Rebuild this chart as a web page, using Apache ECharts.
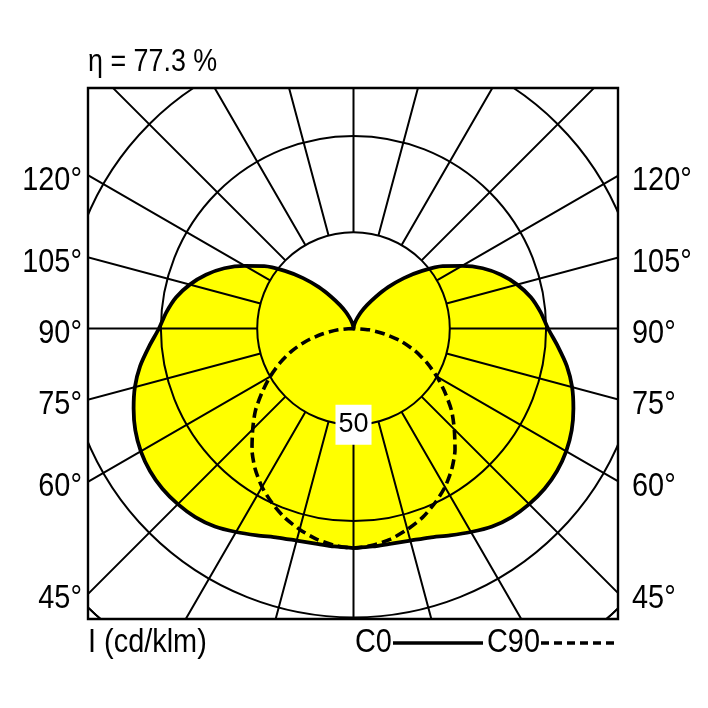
<!DOCTYPE html>
<html><head><meta charset="utf-8">
<script src="https://cdn.jsdelivr.net/npm/echarts@6/dist/echarts.min.js"></script>
<style>html,body{margin:0;padding:0;background:#fff}#c{width:708px;height:708px}</style>
</head><body><div id="c"></div>
<script>
// ---- data (cd/klm), gamma angles in degrees from nadir ----
const gammaC0 = [0,5,10,15,20,25,30,35,40,45,50,55,60,65,70,75,80,85,90,95,100,105,110,115,120,125,130,135,140,145,150,155,160,165,170,175,180];
const c0Values = [114,113.6,113.4,114,115.5,118.5,122,125.5,127.8,129,129.5,129,127.5,125,121.5,117.5,112.5,106.5,101,97.5,93.5,88,81.5,74,65,56.5,46.5,37,28,20,14,9.5,6,3.5,1.8,0.6,0];
const gammaC90 = [0,5,10,15,20,25,30,35,40,45,50,55,60,65,70,75,80,85,90];
const c90Values = [114,113,111,108,104.5,100,95,89,82,74,66.5,58,50,42,34,25.5,16.5,8,0];
const ringTicks = [50,100,150,200];
const ringLabel = 50;
const angleLabels = [45,60,75,90,105,120];
const efficiencyText = 'η = 77.3 %';
const unitText = 'I (cd/klm)';
const legendNames = ['C0','C90'];

// ---- layout ----
const box = {left:88, top:88, right:618, bottom:619};
const center = [353.5, 328.5];
const pxPerUnit = 1.926;
const rMax = ringTicks[ringTicks.length-1];
const R = rMax * pxPerUnit;
const FAM = "'Liberation Sans', Arial, sans-serif";
const FONT = "34px " + FAM;
const SX = 0.85;
const lineW = 2;
const SMOOTH = 0.25;

// full C0/C180 curve (left half then mirrored right half)
const c0Data = [];
gammaC0.forEach((g,i)=>c0Data.push([c0Values[i], g]));
for (let i = gammaC0.length-2; i >= 0; i--) c0Data.push([c0Values[i], 360-gammaC0[i]]);
// C90/C270 curve
const c90Data = [];
for (let i = gammaC90.length-1; i >= 0; i--) c90Data.push([c90Values[i], gammaC90[i]]);
for (let i = 1; i < gammaC90.length; i++) c90Data.push([c90Values[i], 360-gammaC90[i]]);

const chart = echarts.init(document.getElementById('c'), null, {renderer:'canvas'});

function txt(t, x, y, align, font, sx){
  return {type:'text', z:102, x:x, y:y, scaleX:sx||SX, style:{text:t, font:font||FONT, fill:'#000', align:align, verticalAlign:'middle'}};
}
const graphics = [
  {type:'rect', z:100, shape:{x:0,y:0,width:708,height:box.top}, style:{fill:'#fff'}},
  {type:'rect', z:100, shape:{x:0,y:box.bottom,width:708,height:708-box.bottom}, style:{fill:'#fff'}},
  {type:'rect', z:100, shape:{x:0,y:0,width:box.left,height:708}, style:{fill:'#fff'}},
  {type:'rect', z:100, shape:{x:box.right,y:0,width:708-box.right,height:708}, style:{fill:'#fff'}},
  {type:'rect', z:101, shape:{x:box.left,y:box.top,width:box.right-box.left,height:box.bottom-box.top}, style:{fill:'none', stroke:'#000', lineWidth:2.4}},
  txt(efficiencyText, box.left, 62, 'left', "32px " + FAM, 0.84),
  txt(unitText, box.left, 643, 'left'),
  txt(legendNames[0], 355, 643, 'left'),
  {type:'line', z:102, shape:{x1:393,y1:643,x2:483,y2:643}, style:{stroke:'#000', lineWidth:3.5}},
  txt(legendNames[1], 487, 643, 'left'),
  {type:'line', z:102, shape:{x1:541,y1:643,x2:617,y2:643}, style:{stroke:'#000', lineWidth:3.5, lineDash:[8,5]}}
];
const halfW = center[0] - box.left;
angleLabels.forEach(a=>{
  const rad = a*Math.PI/180;
  const y = center[1] + halfW*Math.cos(rad)/Math.sin(rad) + 5;
  graphics.push(txt(a+'°', box.left-6, y, 'right'));
  graphics.push(txt(a+'°', box.right+14, y, 'left'));
});

const option = {
  animation:false,
  backgroundColor:'#fff',
  polar:[{center:center, radius:[0,R]},{center:center, radius:[ringTicks[0]*pxPerUnit, R]}],
  angleAxis:[
    {polarIndex:0, type:'value', min:0, max:360, interval:15, startAngle:270, clockwise:true, z:3,
     axisLine:{show:true, lineStyle:{color:'#000', width:lineW}}, axisTick:{show:false}, axisLabel:{show:false}, splitLine:{show:false}},
    {polarIndex:1, type:'value', min:0, max:360, interval:15, startAngle:270, clockwise:true, z:3,
     axisLine:{show:false}, axisTick:{show:false}, axisLabel:{show:false}, splitLine:{show:true, lineStyle:{color:'#000', width:lineW}}}
  ],
  radiusAxis:[
    {polarIndex:0, type:'value', min:0, max:rMax, interval:ringTicks[0], z:4,
     axisLine:{show:false}, axisTick:{show:false},
     splitLine:{show:true, lineStyle:{color:'#000', width:lineW}},
     axisLabel:{show:true, customValues:[ringLabel], margin:0, align:'center', verticalAlign:'middle', rotate:0,
       fontFamily:FAM, fontSize:27, color:'#000',
       backgroundColor:'#fff', padding:[7,3,6,3]}},
    {polarIndex:1, type:'value', min:ringTicks[0], max:rMax, show:false}
  ],
  series:[
    {type:'line', coordinateSystem:'polar', polarIndex:0, data:c0Data, z:1, symbol:'none', silent:true, smooth:SMOOTH,
     lineStyle:{width:0, opacity:0}, areaStyle:{color:'#ffff00', opacity:1}},
    {type:'line', name:legendNames[0], coordinateSystem:'polar', polarIndex:0, data:c0Data, z:5, symbol:'none', smooth:SMOOTH,
     lineStyle:{color:'#000', width:3.8}},
    {type:'line', name:legendNames[1], coordinateSystem:'polar', polarIndex:0, data:c90Data, z:5, symbol:'none', smooth:SMOOTH,
     lineStyle:{color:'#000', width:3.6, type:[10,5]}}
  ],
  graphic:{elements:graphics}
};
chart.setOption(option);
</script></body></html>
